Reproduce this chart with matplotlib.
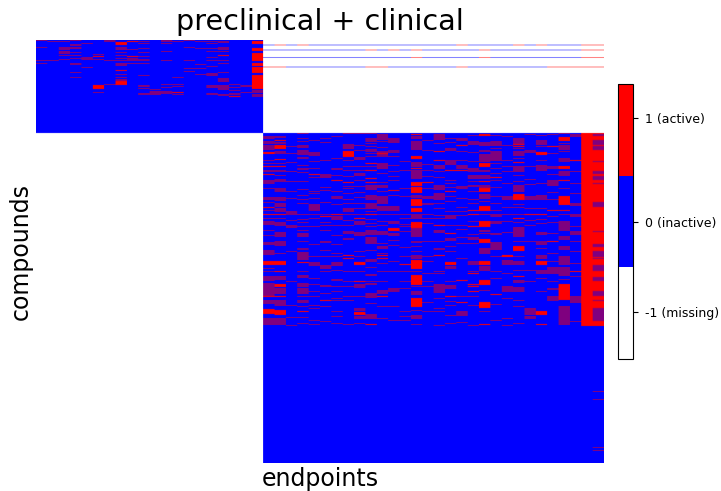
import matplotlib
matplotlib.use("Agg")
import matplotlib.pyplot as plt
from matplotlib.colors import ListedColormap
import numpy as np

# one band = 4 compounds, strong = all 4 active, weak = only 2 of the 4 active
rows_per_band = 4
preclinical_bands = 93
clinical_bands = 330
n_preclinical = 20
n_clinical = 30
tick_values = [-0.66, 0, 0.75]
tick_labels = ["-1 (missing)", "0 (inactive)", "1 (active)"]

preclinical_strong = [
    [], [], [], [], [], [16, 45, 46, 47, 48], [], [2, 3, 4, 30, 41, 42, 43, 44], [1, 16], [],
    [], [], [52], [], [], [], [15], [56], [],
    [1, 2, 3, 8, 9, 10, 13, 14, 15, 16, 17, 18, 19, 20, 23, 24, 25, 27, 28, 29, 30, 31, 32,
     *range(35, 49)],
]
preclinical_weak = [
    [0, 7, 20, 23],
    [1, 20],
    [1, 7, 8, 9, 11, 12, 13, 15, 19],
    [0, 4, 5, 7, 8, 12, 15, 18, 23, 24, 32, 37],
    [3, 17, 18, 19, 27],
    [14, 19, 52],
    [0, 1, 20, 44],
    [7, 8, 9, 12, 15, 18, 20, 23, 24, 25, 34, 37, 39, 40],
    [9, 18, 19, 20, 23],
    [1, 3, 8, 12, 16, 19, 20, 23, 35, 45, 46, 48, 53, 54],
    [49, 51, 52, 53, 54],
    [0, 1, 3, 11, 20, 44, 47, 51, 52, 53],
    [1, 37, 44, 46, 54],
    [0, 7, 20, 28, 31],
    [1, 8, 24, 28, 34],
    [1, 3, 8, 11, 17, 20, 26, 33, 34, 35, 45, 46, 47, 53, 54],
    [1, 2, 7, 8, 9, 11, 20, 23, 32, 38, 39, 40, 41, 45, 46, 47, 48, 49, 54, 55],
    [44, 47, 50, 53, 54],
    [45, 46, 52],
    [50, 51, 52, 54, 55, 56],
]

clinical_strong = [
    [19, 20, 33, 41, 74, 81, 128, 129, 130, 131, 163, 176, 177, 178, 179, 180],
    [7, 12, 13, 14, 15, 26, 33, 81, 128, 129, 130, 131, 138, 151, 152, 153, 163, 177, 178, 179, 180, 181],
    [],
    [129, 178],
    [41],
    [83, 167],
    [47, 81],
    [18, 19, 20, 21, 22, 23, 49, 122, 125],
    [85, 129, 130, 131, 148, 179, 180, 181],
    [30, 37, 45, 49, 81, 191],
    [20, 49, 122, 125, 163],
    [57, 95, 96, 97],
    [131],
    [1, 23, 24, 25, 35, *range(49, 53), *range(54, 60), *range(66, 73), *range(75, 79),
     *range(89, 95), *range(127, 136), *range(142, 152), *range(165, 174)],
    [49],
    [18, 27, 92, 122],
    [37, 58, 100, 129, 130, 131, 163],
    [12, 37, 147, 169],
    [77, 81, 93, 140, 151, 153, 158],
    [1, 2, 30, 31, 32, 33, 48, 55, 56, 57, 58, 73, 74, 75, 76, 77, 88, 89, 90, 91, 92, 93,
     106, 107, 108, 109, 128, 129, 130, 131, 147, 148, 149, 150, 151, 169, 170, 171, 172, 173, 174, 191],
    [44, 161],
    [122, 123],
    [11, 13, 29, 61, 62, 63, 64, 65, 66, 85, 100, 113, 114, 115, 116, 117, 143],
    [81],
    [19, 20, 21, 81, 128, 129, 130, 131, 178, 179, 180, 181, 191],
    [13, 77, 108],
    [4, 5, 6, 7, 33, 34, 35, 47, 63, 64, 65, 66, 67, 68, 69, 70, 71, 77, *range(151, 167)],
    [27, 138],
    list(range(0, 193)),
    list(range(0, 193)) + [258, 266, 314, 317],
]
clinical_weak = [
    [3, 4, 5, 8, 9, 10, 12, 13, 14, 15, 16, 27, 30, 37, 38, 47, 48, 49, 50, 55, 64, 65, 66, 69, 77, 85, 88, 89, 90, 91,
     97, 102, 109, 110, 111, 117, 118, 119, 120, 121, 135, 138, 143, 144, 145, 146, 147, *range(150, 163), 167, 168, 169, 170,
     185, 186, 187, 188, 189, 190, 191],
    [3, 4, 9, 10, 18, 19, 20, 30, 37, 38, 42, 46, 47, 48, 55, 56, 57, 58, 64, 65, 66, 67, 70, 71, 72, 73, 75, 76, 77, 78, 85,
     89, 90, 91, 92, 99, 100, 101, 102, 103, 108, 109, 110, 111, 112, 120, 143, 144, 145, 146, 155, 156, 157, 158, 159, 160,
     167, 168, 169, 170, 171, 172, 185, 186, 187, 188, 189, 190, 191],
    [13, 20, 29, 38, 48, 58, 65, 78, 79, 80, 81, 87, 92, 93, 94, 118, 148, 172, 184, 192],
    [0, 5, 8, 12, 13, 14, 17, 18, 19, 20, 21, 24, 25, 32, 35, 36, 39, 48, 56, 62, 66, 70, 81, 86, 89, 93,
     97, 100, 101, 102, 103, 108, 115, 116, 119, 120, 121, 122, 123, 124, 125, 126, 138, 142, 143, 144,
     150, 151, 152, 153, 155, 156, 157, 158, 159, 160, 163, 167, 168, 169, 173, 184, 190],
    [7, 19, 20, 21, 22, 28, 35, 44, 58, 60, 65, 71, 72, 73, 74, 75, 76, 77, 81, 85, 93, 111, 123, 129, 130, 131, 132, 145, 151, 158, 163, 172, 175, 187, 191],
    [5, 9, 27, 41, 42, 43, 44, 54, 57, 69, 81, 89, 92, 97, 108, 109, 117, 123, 132, 133, 134, 135, 138, 152, 153, 160, 173, 188],
    [3, 25, 35, 36, 42, 58, 63, 64, 65, 71, 83, 84, 85, 86, 92, 102, 111, 120, 123, 129, 130, 131, 132, 137, 146, 147, 153, 158, 165, 167, 178, 183, 190],
    [0, 11, 12, 13, 14, 15, 27, 33, 37, 43, 53, 55, 60, 66, 70, 75, 76, 77, 78, 81, 87, 92, 98, 99, 100, 105, 106, 138, 148, 153, 163, 167, 191],
    [0, 12, 17, 24, 25, 26, 33, 37, 40, 41, 42, 47, 53, 59, 64, 70, 75, 81, 88, 89, 90, 91, 99, 100, 101, 102, 118, 123, 138, 151, 152, 153, 154, 163, 175, 176, 177, 183, 184, 185, 190],
    [0, 5, 6, 7, 8, 10, 13, 16, 17, 18, 20, 23, 33, 52, 53, 54, 55, 56, 62, 63, 64, 65, 66, 70, 71, 72, 73, 74, 75, 78, 86, 90, 93,
     97, 98, 99, 100, 101, 104, 105, 106, 107, 108, 109, 110, 117, 126, 127, 128, 134, 141, 142, 148, 150, 151, 160, 161, 162, 163, 164, 170, 181, 182, 183, 184, 185],
    [1, 2, 3, 4, 5, 6, 8, 14, 18, 19, 21, 22, 23, 30, 31, 32, 33, 34, 35, 40, 49, 52, 53, 54, 58, 63, 64, 65, 66, 67, 68, 69, 70, 73, 74, 75, 76, 77, 81, 88, 92,
     98, 99, 100, 101, 110, 113, 114, 115, 120, 130, 138, 148, 157, 158, 159, 160, 173, 185],
    [5, 6, 7, 8, 9, 17, 18, 19, 23, 32, 38, 43, 47, 62, 73, 74, 75, 76, 77, 81, 88, 89, 90, 100, 101, 102, 107, 112, 128, 138, 155, 156, 157, 158, 173, 187],
    [28, 37, 55, 63, 81, 85, 91, 93, 98, 114, 123, 138, 148, 155, 178, 183, 187],
    [3, 4, 5, 8, 9, 10, 11, 12, 13, 14, 15, 16, 29, 30, 31, 32, 33, 37, 38, 39, 40, 41, 42, 43, 44, 45, 62, 63, 64, 81, 82, 83, 84, 85,
     95, 96, 97, 98, 99, 100, 101, 102, 103, 108, 109, 113, 118, 122, 123, 124, 125, 138, 153, 158, 159, 160, 161, 177, 182, 183, 184, 185, 191],
    [7, 17, 31, 37, 43, 55, 63, 64, 65, 70, 71, 81, 85, 90, 108, 123, 128, 140, 148, 153, 169, 178],
    [1, 2, 3, 4, 5, 6, 10, 32, 33, 34, 35, 38, 44, 52, 53, 54, 55, 56, 60, 61, 62, 63, 64, 65, 66, 70, 75, 82, 85, 97, 98, 99, 108, 115, 116, 138, 140, 151, 152, 153, 154, 155, 156, 157, 158, 159, 165, 175, 178, 192],
    [5, 9, 15, 16, 17, 27, 28, 29, 30, 31, 47, 50, 54, 63, 68, 78, 82, 83, 84, 85, 92, 105, 106, 107, 113, 118, 133, 134, 135, 148, 152, 153, 154, 155, 168, 172, 182, 190],
    [5, 6, 7, 18, 27, 32, 33, 34, 35, 53, 54, 55, 65, 74, 78, 82, 92, 96, 104, 110, 125, 163, 178, 179, 180, 181, 182, 189],
    [2, 8, 9, 10, 11, 19, 28, 35, 36, 37, 38, 42, 43, 44, 45, 48, 52, 53, 58, 66, 70, 88, 101, 104, 105, 106, 110, 128, 129, 130, 131, 138, 163, 172, 192],
    [9, 10, 11, 12, 17, 18, 21, 22, 23, 24, 25, 26, 27, 28, 37, 38, 42, 43, 44, 45, 52, 53, 54, 61, 62, 63, 64, 65, 68, 81, 97, 98, 100,
     115, 116, 117, 118, 119, 120, 133, 134, 135, 136, 137, 157, 178],
    [2, 8, 9, 10, 11, 12, 15, 18, 19, 20, 21, 22, 23, 24, 25, 26, 27, 30, 35, 40, 47, 54, 63, 70, 77, 81, 82, 83, 88, 89, 90, 100, 101, 109, 110, 111, 112, 113, 114, 115, 116, 123, 138, 145, 171, 187],
    [3, 12, 27, 33, 38, 50, 63, 64, 65, 66, 74, 81, 88, 99, 127, 128, 129, 130, 131, 140, 153, 154, 155, 156, 157, 158, 165, 185, 192],
    [5, 6, 7, 8, 9, 10, 15, 18, 19, 20, 21, 22, 25, 33, 34, 35, 36, 37, 38, 42, 48, 52, 53, 54, 55, 56, 57, 58, 71, 74, 81, 89, 94,
     95, 96, 97, 98, 99, 100, 101, 102, 103, 108, 123, 128, 129, 130, 131, 137, 147, 148, 149, 154, 155, 156, 157, 158, 167, 173, 190],
    [1, 17, 18, 19, 33, 46, 51, 63, 64, 65, 66, 75, 87, 92, 108, 137, 148, 175, 176, 177, 178, 179, 180, 181, 183, 184, 185],
    [2, 7, 8, 9, 10, 11, 13, 27, 32, 33, 34, 35, 36, 37, 50, 62, 63, 64, 65, 66, 75, 86, 90, 99, 100, 101, 108, 109, 110, 111, 115, 122, 123, 124, 125, 137, 138, 139, 140, 145, 158],
    [1, 20, 33, 34, 35, 41, 47, 48, 49, 50, 51, 52, 59, 66, 83, 89, 100, 120, 128, 134, 135, 136, 137, 138, 139, 140, 148, 155, 156, 163, 164, 165, 166, 167],
    [0, 10, 12, 13, 14, 15, 16, 18, 25, 26, 27, 28, 38, 39, 40, 41, 42, 55, 81, 88, 89, 90, 91, 92, 93, 94, 95, 96, 97, 103, 104, 105, 106, 113, 114, 115, 116,
     *range(123, 132), *range(134, 143), 146, *range(173, 192)],
    [1, 2, 3, 38, 50, 60, 70, 71, 72, 81, 82, 83, 93, 98, 99, 100, 101, 108, 118, 130, 143, 163, 164, 165, 166, 167, 168, 169, 188],
    [],
    [1, 2, 7, 8, 9, 10, 11, 13, 14, 15, 16, 28, 38, 39, 40, 43, 44, 45, 46, 50, 69, 70, 71, 72, 73, 98, 111, 112, 113, 118, 119, 120, 121, 122, 123, 125,
     132, 133, 134, 135, 136, 137, 144, 145, 146, 147, 158, 159, 160, 161, 162, 167, *range(175, 188), 258, 266, 314, 317],
]

# preclinical compounds that also have clinical endpoints: compound rows, active columns
shared_rows = [[19, 20], [39, 40], [69, 70], [107, 108]]
shared_active = [
    [1, 3, 17, 22, 24, 28, 29],
    [9, 11, 13, 19, 28, 29],
    [13, 19, 28, 29],
    [0, 1, 9, 10, 17, 25, 26, 27, 28, 29],
]


def fill_column(matrix, col, offset, strong, weak):
    for band in strong:
        start = (offset + band) * rows_per_band
        matrix[start:start + rows_per_band, col] = 1
    for band in weak:
        start = (offset + band) * rows_per_band
        matrix[start:start + rows_per_band, col] = 0
        matrix[start + 1:start + 3, col] = 1


n_rows = (preclinical_bands + clinical_bands) * rows_per_band
n_cols = n_preclinical + n_clinical
matrix = -np.ones((n_rows, n_cols))
matrix[:preclinical_bands * rows_per_band, :n_preclinical] = 0
matrix[preclinical_bands * rows_per_band:, n_preclinical:] = 0

for col in range(n_preclinical):
    fill_column(matrix, col, 0, preclinical_strong[col], preclinical_weak[col])
for col in range(n_clinical):
    fill_column(matrix, n_preclinical + col, preclinical_bands, clinical_strong[col], clinical_weak[col])
for rows, active in zip(shared_rows, shared_active):
    matrix[rows, n_preclinical:] = 0
    for c in active:
        matrix[rows, n_preclinical + c] = 1

fig = plt.figure(figsize=(7.21, 4.91), dpi=100)
ax = fig.add_axes([36 / 721, 1 - 463 / 491, 568 / 721, 423 / 491])
cmap = ListedColormap(["white", "blue", "red"])
# repeat columns so the smoothing only acts along the compounds, columns stay sharp
im = ax.imshow(np.repeat(matrix, 12, axis=1), cmap=cmap, vmin=-1, vmax=1, aspect="auto",
               interpolation="antialiased", interpolation_stage="rgba")
ax.set_xticks([])
ax.set_yticks([])
for spine in ax.spines.values():
    spine.set_visible(False)
ax.set_title("preclinical + clinical", fontsize=20.6, pad=7)
ax.set_xlabel("endpoints", fontsize=17, labelpad=3)
ax.set_ylabel("compounds", fontsize=17, labelpad=2)

cax = fig.add_axes([618 / 721, 1 - 359 / 491, 15 / 721, 275 / 491])
cbar = fig.colorbar(im, cax=cax)
cbar.set_ticks(tick_values)
cbar.set_ticklabels(tick_labels)
cbar.ax.tick_params(labelsize=9, pad=5)

fig.savefig("out.png", dpi=100)
